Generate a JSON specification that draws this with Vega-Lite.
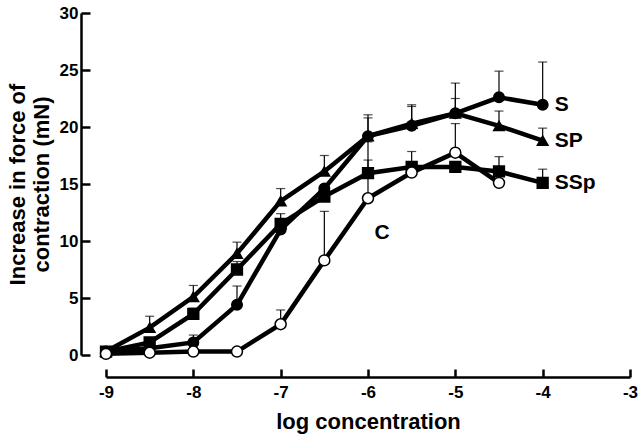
{
  "$schema": "https://vega.github.io/schema/vega-lite/v6.json",
  "width": 524,
  "height": 342,
  "autosize": {"type": "none"},
  "padding": {"left": 106, "top": 13, "right": 10, "bottom": 81},
  "background": "white",
  "config": {
    "view": {"stroke": null},
    "font": "Liberation Sans",
    "axis": {
      "grid": false,
      "domainColor": "black",
      "tickColor": "black",
      "labelColor": "black",
      "titleColor": "black",
      "labelFont": "Liberation Sans",
      "titleFont": "Liberation Sans",
      "labelFontWeight": "bold",
      "titleFontWeight": "bold",
      "domainWidth": 2.5,
      "tickWidth": 2.5
    }
  },
  "data": {
    "values": [
      {"x": -9, "y": 0.3, "e": null, "s": "S"},
      {"x": -8.5, "y": 0.6, "e": null, "s": "S"},
      {"x": -8, "y": 1.1, "e": 1.75, "s": "S"},
      {"x": -7.5, "y": 4.4, "e": 6.05, "s": "S"},
      {"x": -7, "y": 11.0, "e": 12.4, "s": "S"},
      {"x": -6.5, "y": 14.6, "e": null, "s": "S"},
      {"x": -6, "y": 19.2, "e": 21.07, "s": "S"},
      {"x": -5.5, "y": 20.1, "e": 21.95, "s": "S"},
      {"x": -5, "y": 21.2, "e": 23.85, "s": "S"},
      {"x": -4.5, "y": 22.6, "e": 24.9, "s": "S"},
      {"x": -4, "y": 21.95, "e": 25.7, "s": "S"},
      {"x": -9, "y": 0.3, "e": null, "s": "SP"},
      {"x": -8.5, "y": 2.4, "e": 3.4, "s": "SP"},
      {"x": -8, "y": 5.1, "e": 6.1, "s": "SP"},
      {"x": -7.5, "y": 8.9, "e": 9.9, "s": "SP"},
      {"x": -7, "y": 13.5, "e": 14.6, "s": "SP"},
      {"x": -6.5, "y": 16.1, "e": 17.5, "s": "SP"},
      {"x": -6, "y": 19.2, "e": 20.8, "s": "SP"},
      {"x": -5.5, "y": 20.3, "e": 21.8, "s": "SP"},
      {"x": -5, "y": 21.2, "e": 22.5, "s": "SP"},
      {"x": -4.5, "y": 20.1, "e": 21.4, "s": "SP"},
      {"x": -4, "y": 18.8, "e": 19.9, "s": "SP"},
      {"x": -9, "y": 0.3, "e": null, "s": "SSp"},
      {"x": -8.5, "y": 1.1, "e": null, "s": "SSp"},
      {"x": -8, "y": 3.6, "e": 4.1, "s": "SSp"},
      {"x": -7.5, "y": 7.5, "e": 8.2, "s": "SSp"},
      {"x": -7, "y": 11.5, "e": null, "s": "SSp"},
      {"x": -6.5, "y": 13.9, "e": null, "s": "SSp"},
      {"x": -6, "y": 15.95, "e": 17.1, "s": "SSp"},
      {"x": -5.5, "y": 16.5, "e": null, "s": "SSp"},
      {"x": -5, "y": 16.5, "e": null, "s": "SSp"},
      {"x": -4.5, "y": 16.1, "e": 17.4, "s": "SSp"},
      {"x": -4, "y": 15.1, "e": 16.3, "s": "SSp"},
      {"x": -9, "y": 0.1, "e": null, "s": "C"},
      {"x": -8.5, "y": 0.2, "e": null, "s": "C"},
      {"x": -8, "y": 0.3, "e": null, "s": "C"},
      {"x": -7.5, "y": 0.3, "e": null, "s": "C"},
      {"x": -7, "y": 2.7, "e": 3.95, "s": "C"},
      {"x": -6.5, "y": 8.3, "e": 12.6, "s": "C"},
      {"x": -6, "y": 13.75, "e": 18.7, "s": "C"},
      {"x": -5.5, "y": 16.0, "e": 17.85, "s": "C"},
      {"x": -5, "y": 17.75, "e": 20.3, "s": "C"},
      {"x": -4.5, "y": 15.1, "e": null, "s": "C"}
    ]
  },
  "layer": [
    {
      "transform": [{"filter": "datum.e != null"}],
      "mark": {"type": "rule", "strokeWidth": 1.2, "color": "black"},
      "encoding": {
        "x": {
          "field": "x", "type": "quantitative",
          "scale": {"domain": [-9, -3], "nice": false, "zero": false},
          "axis": {
            "values": [-9, -8, -7, -6, -5, -4, -3],
            "labelExpr": "'' + datum.value",
            "offset": 22,
            "tickSize": -8,
            "labelFontSize": 17,
            "labelPadding": 15,
            "labelFlush": false,
            "title": "log concentration",
            "titleFontSize": 22,
            "titlePadding": 11
          }
        },
        "y": {
          "field": "y", "type": "quantitative",
          "scale": {"domain": [0, 30], "nice": false},
          "axis": {
            "values": [0, 5, 10, 15, 20, 25, 30],
            "offset": 25,
            "tickSize": -9,
            "labelFontSize": 17,
            "labelPadding": 12,
            "labelFlush": false,
            "title": ["Increase in force of", "contraction (mN)"],
            "titleFontSize": 22,
            "titleLineHeight": 24,
            "titlePadding": 6
          }
        },
        "y2": {"field": "e"}
      }
    },
    {
      "transform": [{"filter": "datum.e != null"}],
      "mark": {"type": "tick", "orient": "horizontal", "size": 9, "thickness": 1.2, "color": "black"},
      "encoding": {
        "x": {"field": "x", "type": "quantitative"},
        "y": {"field": "e", "type": "quantitative"}
      }
    },
    {
      "mark": {"type": "line", "strokeWidth": 4.5, "color": "black"},
      "encoding": {
        "x": {"field": "x", "type": "quantitative"},
        "y": {"field": "y", "type": "quantitative"},
        "detail": {"field": "s"}
      }
    },
    {
      "mark": {"type": "point", "stroke": "black", "strokeWidth": 1.5, "opacity": 1, "fillOpacity": 1},
      "encoding": {
        "x": {"field": "x", "type": "quantitative"},
        "y": {"field": "y", "type": "quantitative"},
        "shape": {"field": "s", "scale": {"domain": ["S", "SP", "SSp", "C"], "range": ["circle", "triangle-up", "square", "circle"]}, "legend": null},
        "fill": {"field": "s", "scale": {"domain": ["S", "SP", "SSp", "C"], "range": ["black", "black", "black", "white"]}, "legend": null},
        "size": {"field": "s", "scale": {"domain": ["S", "SP", "SSp", "C"], "range": [110, 120, 100, 110]}, "legend": null}
      }
    },
    {
      "data": {
        "values": [
          {"x": -4, "y": 21.95, "t": "S"},
          {"x": -4, "y": 18.8, "t": "SP"},
          {"x": -4, "y": 15.1, "t": "SSp"}
        ]
      },
      "mark": {"type": "text", "align": "left", "baseline": "middle", "dx": 12, "fontSize": 21, "fontWeight": "bold", "font": "Liberation Sans", "color": "black"},
      "encoding": {
        "x": {"field": "x", "type": "quantitative"},
        "y": {"field": "y", "type": "quantitative"},
        "text": {"field": "t"}
      }
    },
    {
      "data": {"values": [{"x": -5.84, "y": 10.7, "t": "C"}]},
      "mark": {"type": "text", "align": "center", "baseline": "middle", "fontSize": 21, "fontWeight": "bold", "font": "Liberation Sans", "color": "black"},
      "encoding": {
        "x": {"field": "x", "type": "quantitative"},
        "y": {"field": "y", "type": "quantitative"},
        "text": {"field": "t"}
      }
    }
  ]
}
